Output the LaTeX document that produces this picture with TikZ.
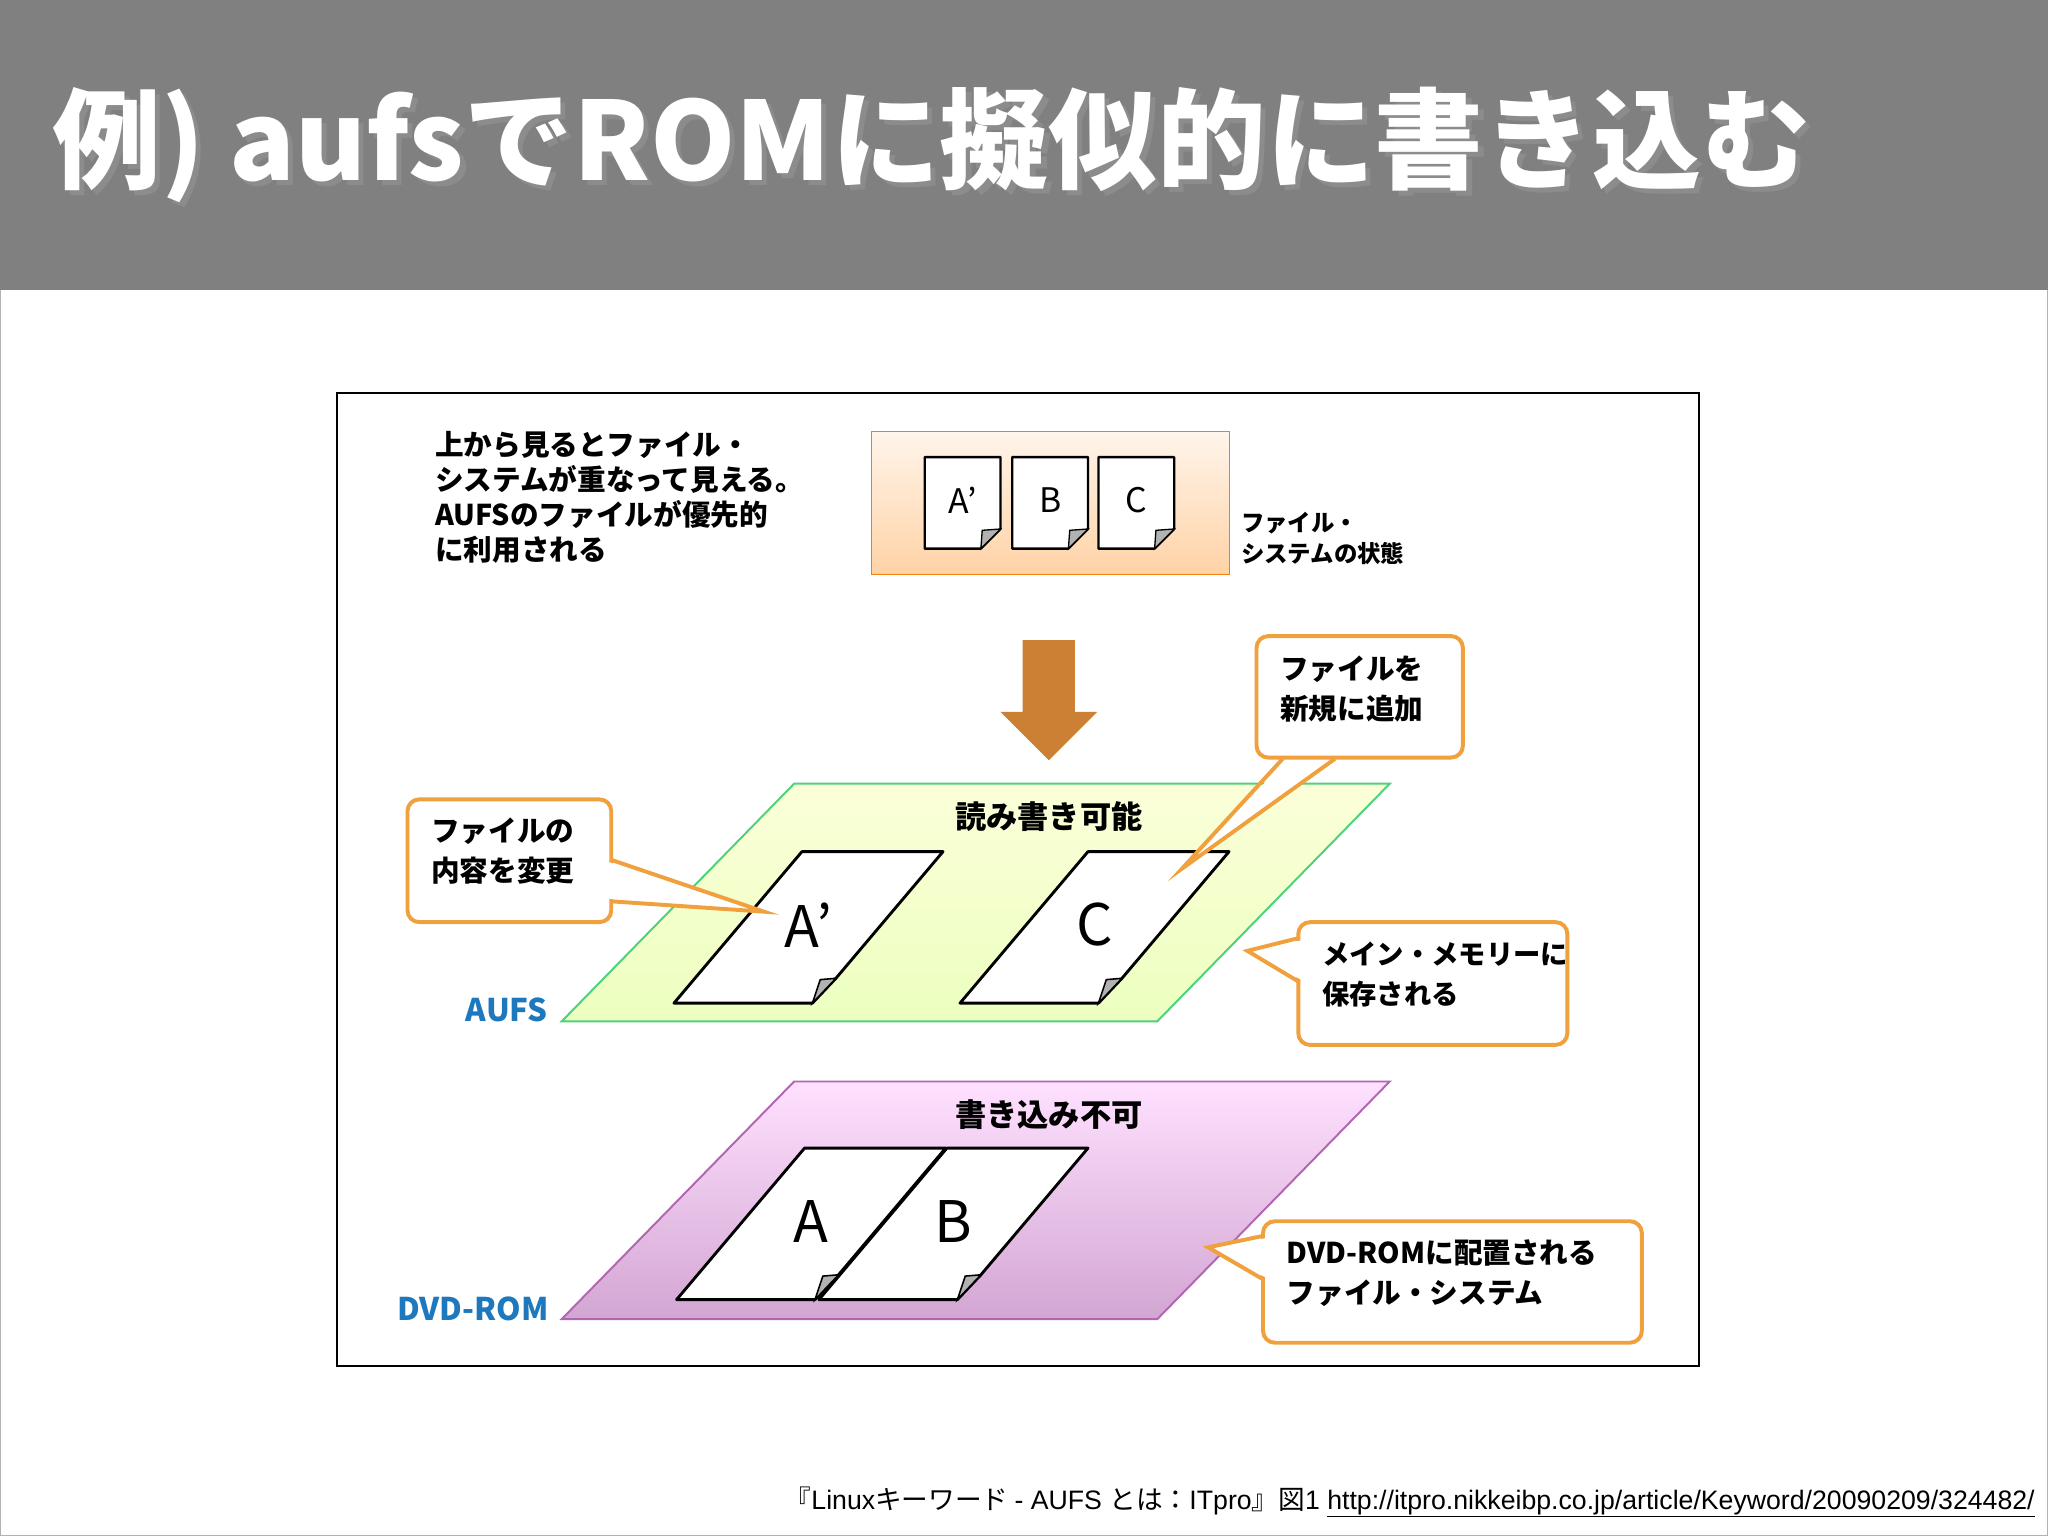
\documentclass[tikz,border=0pt]{standalone}
\usepackage{fontspec}
\setmainfont{Noto Sans CJK JP}
\newfontfamily\cit{Liberation Sans}
\definecolor{callo}{RGB}{240,160,60}
\definecolor{lbl}{RGB}{30,120,190}
\definecolor{bar}{RGB}{128,128,128}
\tikzset{
 cbox/.style={draw=callo,line width=3bp,fill=white,rounded corners=9bp},
 pg/.style={draw=black,line width=2.2bp,fill=white,line join=round},
 fold/.style={fill=gray!60,draw=black,line width=1.2bp},
 tx/.style={font=\fontsize{22}{27}\selectfont\bfseries,align=left,anchor=north west,inner sep=0},
}
\newcommand\ttl{\resizebox{1345bp}{!}{\bfseries 例) aufsでROMに擬似的に書き込む}}
\begin{document}
\begin{tikzpicture}[x=1bp,y=-1bp]
\useasboundingbox (0,0) rectangle (1568,1176);
\fill[white] (0,0) rectangle (1568,1176);
\draw[gray!60] (0.5,0.5) rectangle (1567.5,1175.5);
\fill[bar] (0,0) rectangle (1568,222);
\node (title)[anchor=west,text=white,inner sep=0] at (40,113) {\begin{tikzpicture}[x=1bp,y=-1bp]\node[text=black!45,inner sep=0,anchor=west] at (4,4) {\ttl};\node[text=white,inner sep=0,anchor=west] at (0,0) {\ttl};\end{tikzpicture}};
\draw[black,line width=1.5bp] (258,301) rectangle (1301,1046);
\node (note)[tx] at (333,330) {上から見るとファイル・\\システムが重なって見える。\\AUFSのファイルが優先的\\に利用される};
\shade[top color=orange!8,bottom color=orange!35,draw=orange!80!brown] (667,330) rectangle (941,440);
\foreach \x/\t in {708/A’,775/B,841/C}{
 \draw[pg,line width=1.8bp] (\x,350) -- (\x+58,350) -- (\x+58,405) -- (\x+43,420) -- (\x,420) -- cycle;
 \draw[fold,line width=1bp] (\x+58,405) -- (\x+43,420) -- (\x+44,406) -- cycle;
 \node[font=\fontsize{26}{30}\selectfont] at (\x+29,383) {\t};
}
\node (state)[tx,font=\fontsize{18}{24}\selectfont\bfseries] at (950,392) {ファイル・\\システムの状態};
\fill[brown!80!orange] (783,490) -- (823,490) -- (823,545) -- (840,545) -- (803,582) -- (766,545) -- (783,545) -- cycle;
\shade[top color=green!10!yellow!15,bottom color=green!30!yellow!25,draw=teal!50!green!70,line width=1.5bp] (430,782) -- (608,600) -- (1064,600) -- (886,782) -- cycle;
\node (rw)[font=\fontsize{24}{28}\selectfont\bfseries] at (803,625) {読み書き可能};
\node (aufs)[text=lbl,font=\fontsize{24}{28}\selectfont\bfseries] at (388,773) {AUFS};
\shade[top color=magenta!12,bottom color=violet!35,draw=violet!60,line width=1.5bp] (430,1010) -- (608,828) -- (1064,828) -- (886,1010) -- cycle;
\node (ro)[font=\fontsize{24}{28}\selectfont\bfseries] at (803,853) {書き込み不可};
\node (dvd)[text=lbl,font=\fontsize{24}{28}\selectfont\bfseries] at (362,1002) {DVD-ROM};
\foreach \x/\y/\t in {516/768/A’,735/768/C,518/995/A,627/995/B}{
 \draw[pg] (\x,\y) -- (\x+98,\y-116) -- (\x+206,\y-116) -- (\x+124,\y-19) -- (\x+106,\y) -- cycle;
 \draw[fold] (\x+124,\y-19) -- (\x+106,\y) -- (\x+112,\y-18) -- cycle;
 \node[font=\fontsize{44}{48}\selectfont] at (\x+103,\y-60) {\t};
}
\draw[cbox] (312,612) rectangle (468,706);
\fill[white] (466,660) -- (466,688) -- (585,698) -- cycle;
\draw[callo,line width=3bp] (467,658) -- (585,698) -- (467,690);
\node (c1)[tx,font=\fontsize{22}{31}\selectfont\bfseries] at (330,626) {ファイルの\\内容を変更};
\draw[cbox] (962,487) rectangle (1120,580);
\fill[white] (985,582) -- (1020,582) -- (905,665) -- cycle;
\draw[callo,line width=3bp] (982,581) -- (905,665) -- (1022,581);
\node (c2)[tx,font=\fontsize{22}{31}\selectfont\bfseries] at (980,502) {ファイルを\\新規に追加};
\draw[cbox] (994,706) rectangle (1200,800);
\fill[white] (996,720) -- (996,750) -- (955,728) -- cycle;
\draw[callo,line width=3bp] (995,718) -- (955,728) -- (995,752);
\node (c3)[tx,font=\fontsize{21}{31}\selectfont\bfseries] at (1012,721) {メイン・メモリーに\\保存される};
\draw[cbox] (967,935) rectangle (1257,1028);
\fill[white] (969,948) -- (969,978) -- (925,955) -- cycle;
\draw[callo,line width=3bp] (968,946) -- (925,955) -- (968,980);
\node (c4)[tx,font=\fontsize{22}{31}\selectfont\bfseries] at (985,949) {DVD-ROMに配置される\\ファイル・システム};
\node (cite)[anchor=east,inner sep=0,font=\fontsize{20.5}{24}\selectfont] at (1558,1150) {『\cit Linux\rmfamily キーワード \cit - AUFS \rmfamily とは：\cit ITpro\rmfamily 』図\cit 1 \underline{http://itpro.nikkeibp.co.jp/article/Keyword/20090209/324482/}};
\end{tikzpicture}
\end{document}
